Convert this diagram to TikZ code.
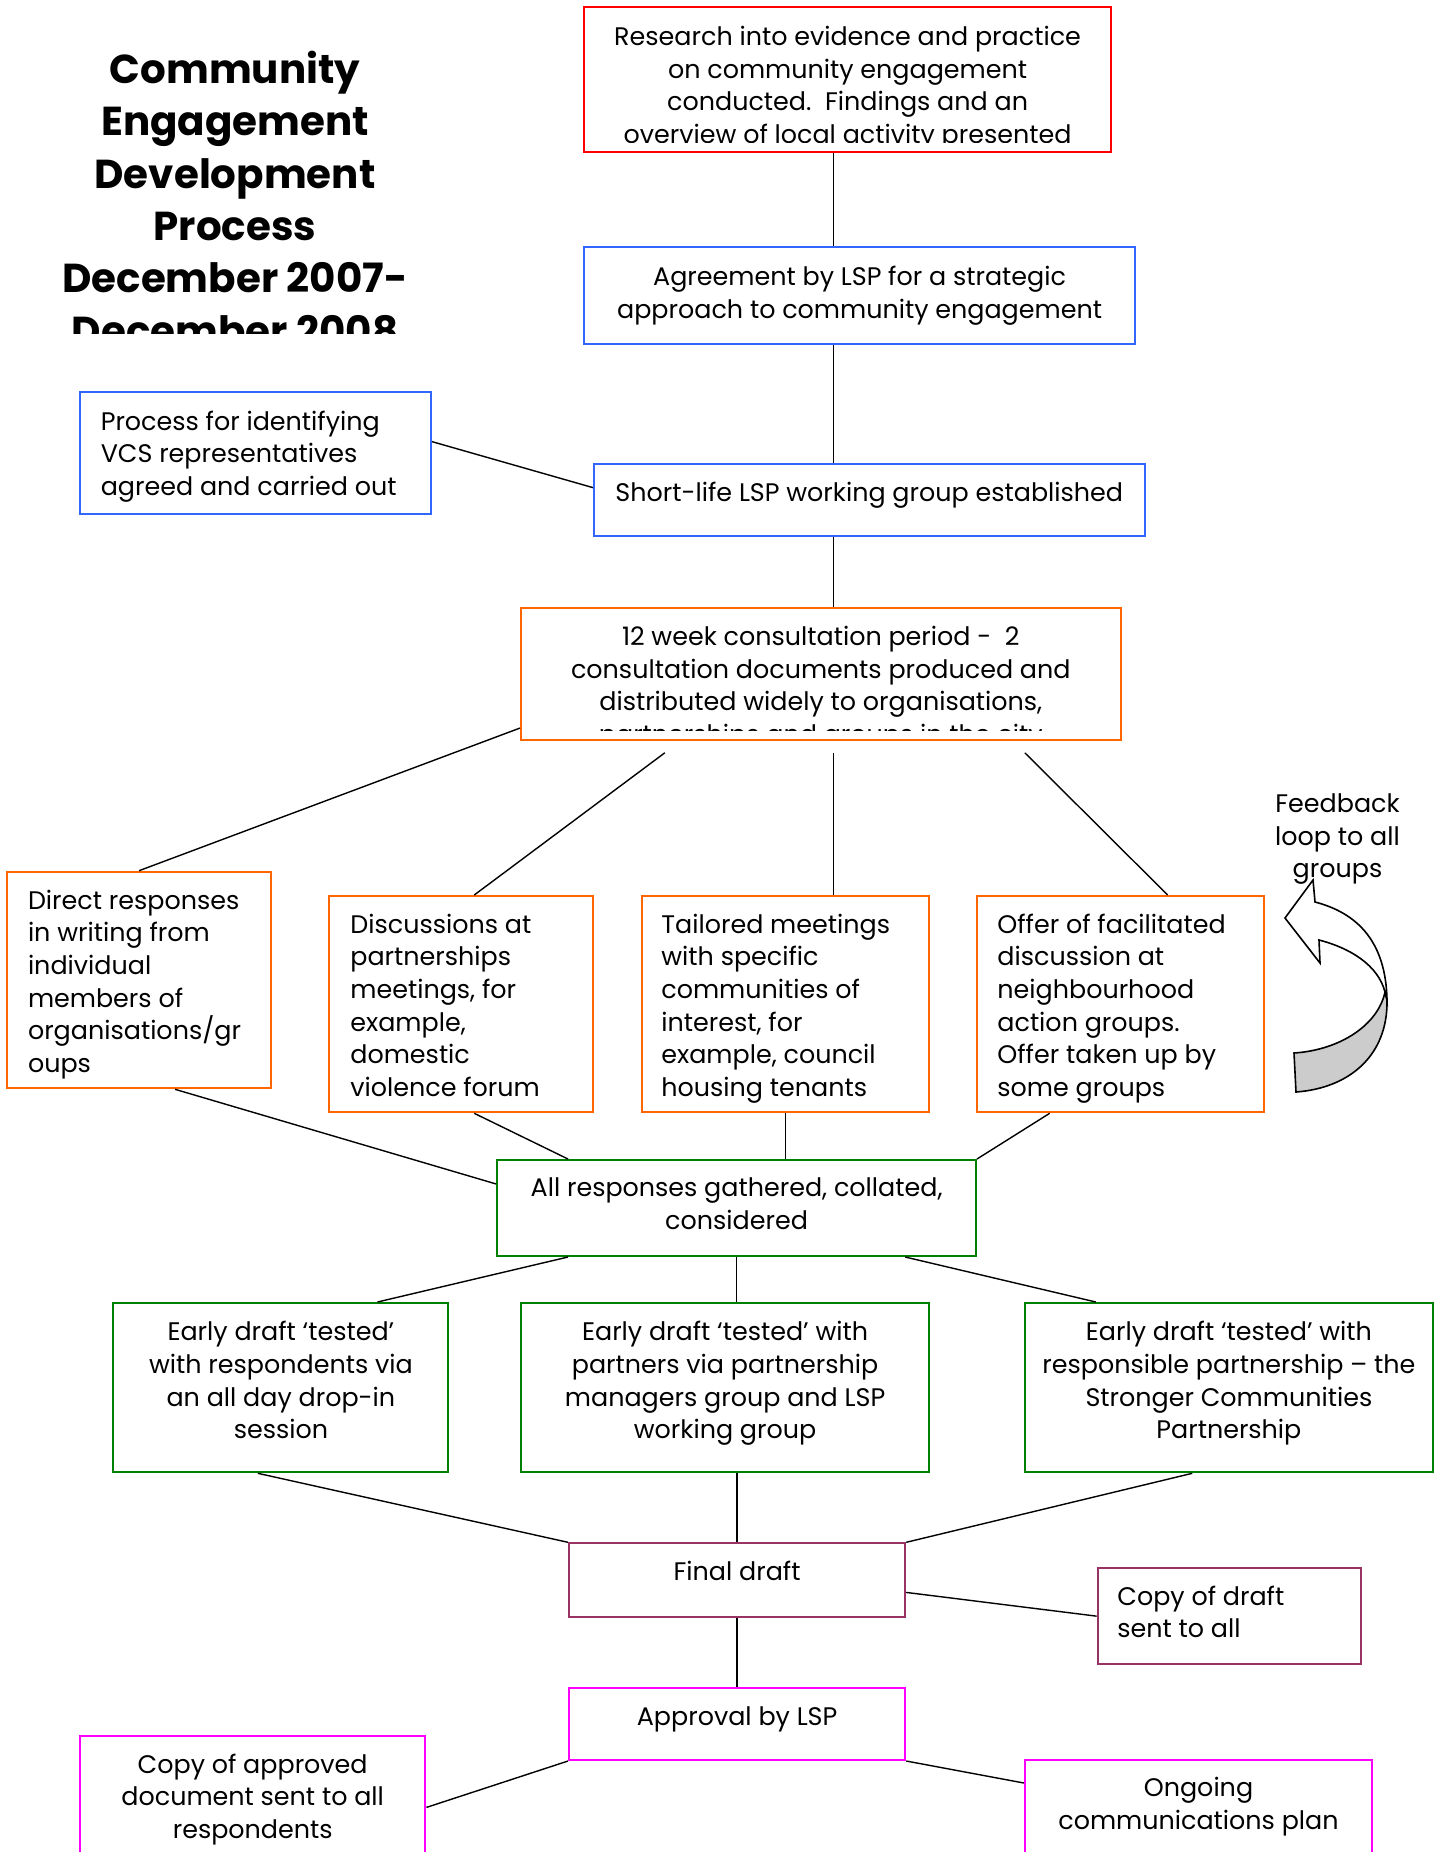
\documentclass[tikz,border=0pt]{standalone}
\usepackage{fontspec}
\setmainfont{Poppins}
\usetikzlibrary{fit}
\definecolor{boxred}{RGB}{255,0,0}
\definecolor{boxblue}{RGB}{51,102,255}
\definecolor{boxorange}{RGB}{255,102,0}
\definecolor{boxgreen}{RGB}{0,128,0}
\definecolor{boxplum}{RGB}{153,51,102}
\definecolor{boxpink}{RGB}{255,0,255}
\begin{document}
\begin{tikzpicture}[x=0.5pt, y=-0.5pt,
	box/.style = {draw, line width=1pt, inner sep=0pt},
	txt/.style = {font=\fontsize{12.7}{16.3}\selectfont, inner sep=0pt, align=center},
	ltxt/.style = {txt, align=left},
	link/.style = {line width=0.7pt}]
	\useasboundingbox (0,0) rectangle (1444,1852);
	%title (anchored at the last baseline)
	\begin{scope}
		\clip (0,0) rectangle (480,333);
		\node[txt, font=\fontsize{20.2}{26.2}\selectfont\bfseries, anchor=base] (title) at (235,345.3)
		{Community\\Engagement\\Development\\Process\\December 2007-\\December 2008};
	\end{scope}
	
	%boxes
	\node[box, draw=boxred, fit={(583.8,7.3) (1111.4,152.3)}] (research) {};
	\node[box, draw=boxblue, fit={(583.8,247.3) (1135.4,344)}] (agreement) {};
	\node[box, draw=boxblue, fit={(80,391.7) (431,514)}] (vcs) {};
	\node[box, draw=boxblue, fit={(594,464) (1144.6,535.7)}] (shortlife) {};
	\node[box, draw=boxorange, fit={(521,607.7) (1120.6,740)}] (consult) {};
	\node[box, draw=boxorange, fit={(7.4,871.7) (270.7,1088.3)}] (direct) {};
	\node[box, draw=boxorange, fit={(328.7,896) (593,1112.3)}] (discuss) {};
	\node[box, draw=boxorange, fit={(641.8,896) (929,1112.3)}] (tailored) {};
	\node[box, draw=boxorange, fit={(977,896) (1264.3,1112.3)}] (offer) {};
	\node[box, draw=boxgreen, fit={(497.2,1160) (976,1256)}] (gathered) {};
	\node[box, draw=boxgreen, fit={(113.3,1303) (448.4,1472.3)}] (dropin) {};
	\node[box, draw=boxgreen, fit={(521.2,1303) (929,1472.3)}] (managers) {};
	\node[box, draw=boxgreen, fit={(1024.9,1303) (1432.8,1472.3)}] (stronger) {};
	\node[box, draw=boxplum, fit={(569,1543.3) (905.2,1616.7)}] (final) {};
	\node[box, draw=boxplum, fit={(1097.6,1568) (1361,1664.3)}] (copydraft) {};
	\node[box, draw=boxpink, fit={(569,1688.3) (905.2,1760)}] (approval) {};
	\node[box, draw=boxpink, fit={(80,1736) (425.4,1890)}] (copyapproved) {};
	\node[box, draw=boxpink, fit={(1024.9,1760) (1372,1890)}] (ongoing) {};
	
	%texts (anchored at the last baseline)
	\begin{scope}
		\clip (research.north west) rectangle ([yshift=5.2pt]research.south east);
		\node[txt, anchor=base] (researchtext) at (847.6,143.5)
		{Research into evidence and practice\\on community engagement\\conducted.\ \ Findings and an\\overview of local activity presented};
	\end{scope}
	\node[txt, anchor=base] (agreementtext) at (859.6,318)
	{Agreement by LSP for a strategic\\approach to community engagement};
	\node[ltxt, anchor=base west] (vcstext) at (100.4,495.2)
	{Process for identifying\\VCS representatives\\agreed and carried out};
	\node[txt, anchor=base] (shortlifetext) at (869.3,501.7) {Short-life LSP working group established};
	\begin{scope}
		\clip (consult.north west) rectangle ([yshift=5.4pt]consult.south east);
		\node[txt, anchor=base] (consulttext) at (820.8,743.5)
		{12 week consultation period -\ \ 2\\consultation documents produced and\\distributed widely to organisations,\\partnerships and groups in the city};
	\end{scope}
	\node[ltxt, anchor=base west] (directtext) at (27.6,1072.3)
	{Direct responses\\in writing from\\individual\\members of\\organisations/gr\\oups};
	\node[ltxt, anchor=base west] (discusstext) at (350,1096.3)
	{Discussions at\\partnerships\\meetings, for\\example,\\domestic\\violence forum};
	\node[ltxt, anchor=base west] (tailoredtext) at (661,1096.3)
	{Tailored meetings\\with specific\\communities of\\interest, for\\example, council\\housing tenants};
	\node[ltxt, anchor=base west] (offertext) at (997,1096.3)
	{Offer of facilitated\\discussion at\\neighbourhood\\action groups.\\Offer taken up by\\some groups};
	\node[txt, anchor=base] (gatheredtext) at (736.6,1229)
	{All responses gathered, collated,\\considered};
	\node[txt, anchor=base] (dropintext) at (280.9,1438.7)
	{Early draft ‘tested’\\with respondents via\\an all day drop-in\\session};
	\node[txt, anchor=base] (managerstext) at (725.1,1438.7)
	{Early draft ‘tested’ with\\partners via partnership\\managers group and LSP\\working group};
	\node[txt, anchor=base] (strongertext) at (1228.9,1438.7)
	{Early draft ‘tested’ with\\responsible partnership – the\\Stronger Communities\\Partnership};
	\node[txt, anchor=base] (finaltext) at (737.1,1580.7) {Final draft};
	\node[ltxt, anchor=base west] (copydrafttext) at (1117,1637.6) {Copy of draft\\sent to all};
	\node[txt, anchor=base] (approvaltext) at (737.1,1725.7) {Approval by LSP};
	\node[txt, anchor=base] (copyapprovedtext) at (252.7,1838.5)
	{Copy of approved\\document sent to all\\respondents};
	\node[txt, anchor=base] (ongoingtext) at (1198.5,1829.3) {Ongoing\\communications plan};
	\node[txt, anchor=base] (feedback) at (1337.5,877.9) {Feedback\\loop to all\\groups};
	
	%feedback arrow
	\draw[fill=gray!40, line width=0.8pt] (1294,1053) .. controls (1340,1050) and (1378,1025) .. (1385,992)
		-- (1387,1000) .. controls (1388,1055) and (1350,1088) .. (1296,1092) -- cycle;
	\draw[fill=white, line width=0.8pt] (1315,902) -- (1313,880) -- (1285,918) -- (1320,963) -- (1319,940)
		.. controls (1350,948) and (1378,965) .. (1385,992) -- (1387,1000)
		.. controls (1386,950) and (1365,915) .. (1315,902) -- cycle;
	
	%connectors
	\coordinate (spine) at (833.5,0);
	\draw[link] (research.south -| spine) -- (agreement.north -| spine);
	\draw[link] (agreement.south -| spine) -- (shortlife.north -| spine);
	\draw[link] ([yshift=5.6pt]vcs.east) -- ([yshift=6.1pt]shortlife.west);
	\draw[link] (shortlife.south -| spine) -- (consult.north -| spine);
	\draw[link] ([yshift=-27.1pt]consult.west) -- (direct.north);
	\draw[link] ([xshift=-78pt, yshift=-5.9pt]consult.south) -- ([xshift=6.7pt]discuss.north);
	\draw[link] ([yshift=-5.9pt]consult.south -| spine) -- (tailored.north -| spine);
	\draw[link] ([xshift=102pt, yshift=-5.9pt]consult.south) -- ([xshift=23.5pt]offer.north);
	\draw[link] ([xshift=18pt]direct.south) -- ([yshift=12pt]gathered.west);
	\draw[link] ([xshift=6.7pt]discuss.south) -- ([xshift=-84.3pt]gathered.north);
	\draw[link] (tailored.south) -- (tailored.south |- gathered.north);
	\draw[link] ([xshift=-35.5pt]offer.south) -- (gathered.north east);
	\draw[link] ([xshift=-84.3pt]gathered.south) -- ([xshift=48.3pt]dropin.north);
	\draw[link] (gathered.south) -- (gathered.south |- managers.north);
	\draw[link] ([xshift=84.3pt]gathered.south) -- ([xshift=-66.5pt]stronger.north);
	\draw[link] ([xshift=-11.5pt]dropin.south) -- (final.north west);
	\draw[link] (final.north |- managers.south) -- (final.north);
	\draw[link] ([xshift=-18.3pt]stronger.south) -- (final.north east);
	\draw[link] ([yshift=-6.2pt]final.east) -- (copydraft.west);
	\draw[link] (final.south) -- (approval.north);
	\draw[link] (approval.south west) -- ([yshift=-36.2pt]copyapproved.north east);
	\draw[link] (approval.south east) -- ([yshift=-12pt]ongoing.north west);
\end{tikzpicture}
\end{document}
